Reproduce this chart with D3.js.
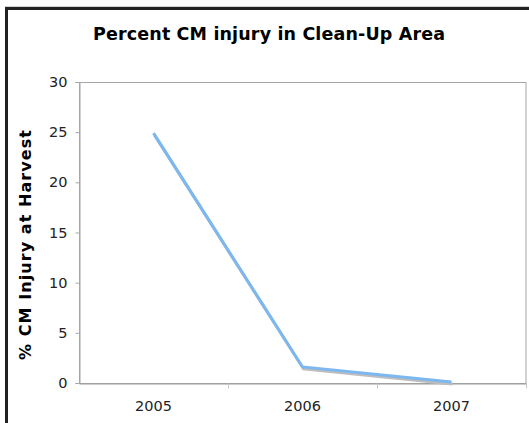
<!DOCTYPE html>
<html>
<head>
<meta charset="utf-8">
<script src="https://cdn.jsdelivr.net/npm/d3@7"></script>
<style>
  html, body { margin: 0; padding: 0; background: #fff; }
  svg { display: block; }
</style>
</head>
<body>
<svg id="chart" width="529" height="423"></svg>
<script>
// Percent CM injury by year in the clean-up area
const years = ["2005", "2006", "2007"];
const injury = [24.9, 1.6, 0.1];
const yTicks = [0, 5, 10, 15, 20, 25, 30];

const W = 529, H = 423;
const margin = { left: 79, right: 3, top: 82, bottom: 40 };

const svg = d3.select("#chart");

// outer frame
svg.append("rect")
  .attr("x", 5.5).attr("y", 6.5)
  .attr("width", W + 20).attr("height", H + 20)
  .attr("fill", "none").attr("stroke", "#d4d4d4").attr("stroke-width", 1);
svg.append("rect")
  .attr("x", 6.5).attr("y", 8.5)
  .attr("width", W + 20).attr("height", H + 20)
  .attr("fill", "none").attr("stroke", "#222").attr("stroke-width", 3);

const x = d3.scaleBand()
  .domain(years)
  .range([margin.left, W - margin.right]);

const y = d3.scaleLinear()
  .domain([0, 30])
  .range([H - margin.bottom, margin.top]);

// plot area border
svg.append("rect")
  .attr("x", margin.left + 0.5).attr("y", margin.top + 0.5)
  .attr("width", W - margin.right - margin.left - 0.5)
  .attr("height", y(0) - margin.top)
  .attr("fill", "none").attr("stroke", "#a6a6a6").attr("stroke-width", 1);

// y axis
const yAxis = svg.append("g")
  .attr("transform", `translate(${margin.left + 0.5},0)`)
  .call(d3.axisLeft(y).tickValues(yTicks).tickSize(4).tickPadding(8));
yAxis.select(".domain").attr("stroke", "#a6a6a6");
yAxis.selectAll(".tick line").attr("stroke", "#a6a6a6");
yAxis.selectAll(".tick text")
  .attr("fill", "#222")
  .style("font-family", "'DejaVu Sans', Verdana, sans-serif")
  .style("font-size", "14.5px");

// x axis: ticks sit on the band boundaries
const xAxis = svg.append("g")
  .attr("transform", `translate(0,${y(0) + 0.5})`)
  .call(d3.axisBottom(x).tickSize(0).tickPadding(17));
xAxis.select(".domain").attr("stroke", "#9a9a9a");
xAxis.selectAll(".tick text")
  .attr("fill", "#222")
  .style("font-family", "'DejaVu Sans', Verdana, sans-serif")
  .style("font-size", "14.5px");
xAxis.selectAll(".band-tick")
  .data(years.slice(1).concat(["end"]))
  .enter().append("line")
  .attr("class", "band-tick")
  .attr("x1", (d, i) => i < years.length - 1 ? Math.round(x(d)) + 0.5 : W - margin.right + 0.5)
  .attr("x2", (d, i) => i < years.length - 1 ? Math.round(x(d)) + 0.5 : W - margin.right + 0.5)
  .attr("y1", 0).attr("y2", 5)
  .attr("stroke", "#c8c8c8");

const pts = years.map((yr, i) => [x(yr) + x.bandwidth() / 2, y(injury[i])]);
const line = d3.line();

// drop shadow under the series line
svg.append("path")
  .attr("d", line(pts))
  .attr("transform", "translate(1,2)")
  .attr("fill", "none")
  .attr("stroke", "#bdbdbd")
  .attr("stroke-width", 3)
  .attr("stroke-linejoin", "miter");

svg.append("path")
  .attr("d", line(pts))
  .attr("fill", "none")
  .attr("stroke", "#7cb8ef")
  .attr("stroke-width", 3)
  .attr("stroke-linejoin", "miter");

// title
svg.append("text")
  .attr("x", 269).attr("y", 40)
  .attr("text-anchor", "middle")
  .attr("fill", "#000")
  .attr("textLength", 352)
  .attr("lengthAdjust", "spacing")
  .style("font-family", "'DejaVu Sans', Verdana, sans-serif")
  .style("font-weight", "bold")
  .style("font-size", "17.5px")
  .text("Percent CM injury in Clean-Up Area");

// y axis title
svg.append("text")
  .attr("transform", `translate(31,${(130 + 360) / 2}) rotate(-90)`)
  .attr("text-anchor", "middle")
  .attr("fill", "#000")
  .attr("textLength", 230)
  .attr("lengthAdjust", "spacing")
  .style("font-family", "'DejaVu Sans', Verdana, sans-serif")
  .style("font-weight", "bold")
  .style("font-size", "16px")
  .text("% CM Injury at Harvest");
</script>
</body>
</html>
